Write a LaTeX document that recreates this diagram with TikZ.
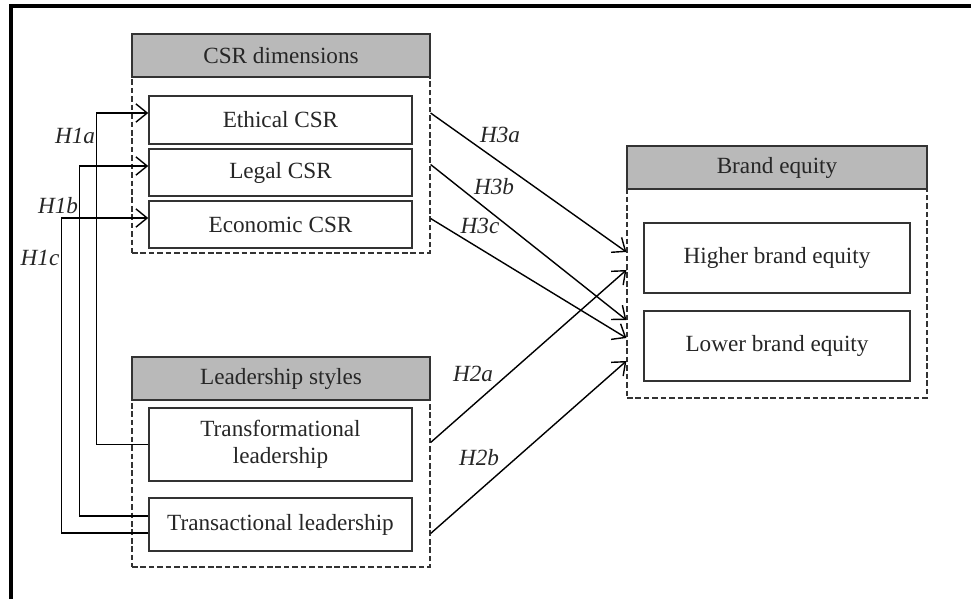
\documentclass[tikz,border=0pt]{standalone}
\usepackage{fontspec}
\setmainfont{Liberation Serif}
\usetikzlibrary{calc,arrows.meta,positioning}
\tikzset{%
    group/.style={%
        draw=black!80, dash pattern=on 4pt off 2pt, line width=0.8pt, minimum width=7.45cm
    },
    header/.style={%
        rectangle, draw=black!80, line width=1pt, fill=gray!55, minimum width=7.45cm, minimum height=1.075cm, text centered
    },
    item/.style={%
        rectangle, draw=black!80, line width=1pt, fill=white, minimum width=6.575cm, text centered, align=center
    },
    hyp/.style={%
        font=\fontsize{16.5}{19}\selectfont\itshape
    },
    rel/.style={%
        -{Straight Barb[length=8pt,width=13pt]}, line width=1pt
    },
}
\begin{document}
\begin{tikzpicture}[x=0.025cm, y=-0.025cm, font=\fontsize{16.5}{19.5}\selectfont, text=black!85]
    \useasboundingbox (0,0) rectangle (971,599);
    \draw[line width=2.2pt] (11,599) -- (11,6) -- (971,6);
    % CSR dimensions
    \node[group, minimum height=5.475cm] (csr) at (281,143.5) {};
    \node[header, anchor=north] (csrhead) at (csr.north) {CSR dimensions};
    \node[item, minimum height=1.2cm] (ethical) at (280.5,120) {Ethical CSR};
    \node[item, minimum height=1.175cm] (legal) at (280.5,172.5) {Legal CSR};
    \node[item, minimum height=1.175cm] (econ) at (280.5,224.5) {Economic CSR};
    % Leadership styles
    \node[group, minimum height=5.25cm] (lead) at (281,462) {};
    \node[header, anchor=north] (leadhead) at (lead.north) {Leadership styles};
    \node[item, minimum height=1.825cm] (transf) at (280.5,444.5) {Transformational\\leadership};
    \node[item, minimum height=1.325cm] (transc) at (280.5,524.5) {Transactional leadership};
    % Brand equity
    \node[group, minimum width=7.5cm, minimum height=6.3cm] (brand) at (777,272) {};
    \node[header, anchor=north, minimum width=7.5cm] (brandhead) at (brand.north) {Brand equity};
    \node[item, minimum width=6.65cm, minimum height=1.75cm] (higher) at (777,258) {Higher brand equity};
    \node[item, minimum width=6.65cm, minimum height=1.75cm] (lower) at (777,346) {Lower brand equity};
    % leadership -> CSR
    \draw[rel] (transf.west) -- ++(-52,0) |- ($(ethical.west)+(0,-7)$);
    \draw[rel] ($(transc.west)+(0,-8.5)$) -- ++(-69,0) |- ($(legal.west)+(0,-6.5)$);
    \draw[rel] ($(transc.west)+(0,8.5)$) -- ++(-87,0) |- ($(econ.west)+(0,-6.5)$);
    % CSR and leadership -> brand equity
    \draw[rel] ($(csr.east |- ethical)+(0,-7)$) -- ($(brand.west |- higher)+(0,-6)$);
    \draw[rel] ($(csr.east |- legal)+(0,-8)$) -- ($(brand.west |- lower)+(0,-26)$);
    \draw[rel] ($(csr.east |- econ)+(0,-6)$) -- ($(brand.west |- lower)+(0,-8)$);
    \draw[rel] ($(lead.east |- transf)+(0,-2)$) -- ($(brand.west |- higher)+(0,12)$);
    \draw[rel] ($(lead.east |- transc)+(0,9)$) -- ($(brand.west |- lower)+(0,15)$);
    % hypotheses
    \node[hyp] (h1a) at (75,136) {H1a};
    \node[hyp] (h1b) at (58,206) {H1b};
    \node[hyp] (h1c) at (40,258) {H1c};
    \node[hyp] (h3a) at (500,135) {H3a};
    \node[hyp] (h3b) at (494,187) {H3b};
    \node[hyp] (h3c) at (480,226) {H3c};
    \node[hyp] (h2a) at (473,374) {H2a};
    \node[hyp] (h2b) at (479,458) {H2b};
\end{tikzpicture}
\end{document}
